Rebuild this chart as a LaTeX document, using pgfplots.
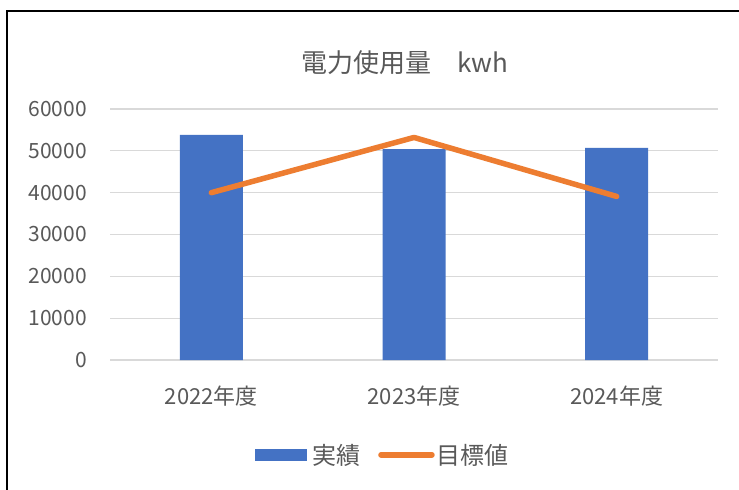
\documentclass[border=0pt]{standalone}
\usepackage{fontspec}
\setmainfont{Noto Sans CJK JP}
\usepackage{pgfplots}
\pgfplotsset{compat=1.18}
\definecolor{barblue}{HTML}{4472C4}
\definecolor{lineorange}{HTML}{ED7D31}
\definecolor{txt}{HTML}{595959}
\definecolor{gridc}{HTML}{D9D9D9}
\begin{document}
\begin{tikzpicture}
\useasboundingbox (0,0) rectangle (739bp,490bp);
\fill[white] (0,0) rectangle (739bp,490bp);
\draw[black, line width=1.5bp] (7bp,-5bp) -- (7bp,479bp) -- (745bp,479bp);
\node[text=txt, font=\fontsize{26bp}{30bp}\selectfont, inner sep=0pt] at (405bp,427bp) {電力使用量　kwh};
\begin{axis}[
  at={(110bp,130bp)}, anchor=south west,
  scale only axis, width=608bp, height=251bp,
  xmin=-0.5, xmax=2.5, ymin=0, ymax=60000,
  xtick={0,1,2}, xticklabels={2022年度,2023年度,2024年度},
  ytick={0,10000,20000,30000,40000,50000,60000},
  scaled y ticks=false,
  ymajorgrids, grid style={gridc, line width=1.3bp},
  axis line style={draw=none},
  major tick length=0pt, tick style={draw=none},
  /pgf/number format/assume math mode=true,
  /pgf/number format/1000 sep={},
  yticklabel style={font=\fontsize{21bp}{24bp}\selectfont, text=txt, inner sep=0pt, anchor=east, xshift=-23bp},
  xticklabel style={font=\fontsize{22bp}{26bp}\selectfont, text=txt, inner sep=0pt, anchor=center, yshift=-36bp},
  legend style={at={(0.449,-0.378)}, anchor=center, draw=none, fill=none,
    font=\fontsize{24bp}{26bp}\selectfont, text=txt,
    /tikz/every even column/.append style={column sep=16bp}},
  legend columns=2,
  clip=false,
]
\addplot[ybar, bar width=63bp, fill=barblue, draw=none,
  legend image code/.code={\fill[barblue] (0bp,-6bp) rectangle (52bp,6bp); \path (55bp,0bp);}]
  coordinates {(0,53800) (1,50400) (2,50700)};
\addlegendentry{実績}
\addplot[lineorange, line width=5.5bp, line cap=round, line join=round, mark=none,
  legend image code/.code={\draw[lineorange, line width=5.5bp, line cap=round] (3bp,0bp) -- (54bp,0bp);}]
  coordinates {(0,40000) (1,53200) (2,39100)};
\addlegendentry{目標値}
\end{axis}
\end{tikzpicture}
\end{document}
